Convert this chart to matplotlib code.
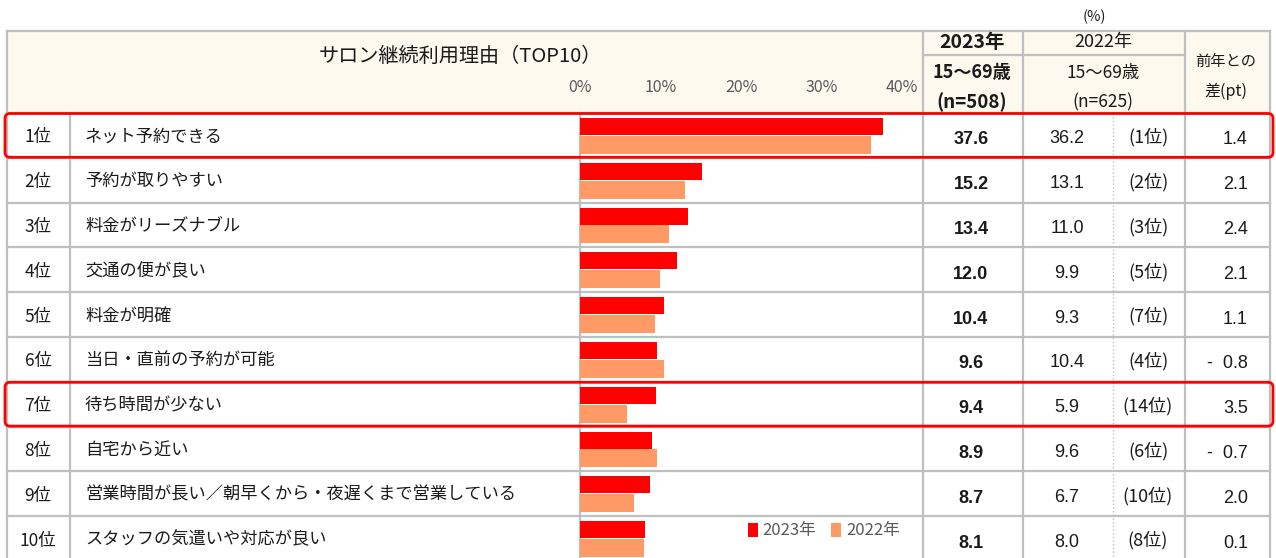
import matplotlib
matplotlib.use("Agg")
import matplotlib.pyplot as plt
from matplotlib.patches import Rectangle, FancyBboxPatch
import numpy as np

plt.rcParams['font.family'] = ['Noto Sans CJK JP', 'DejaVu Sans']

# データ
ranks = ["1位", "2位", "3位", "4位", "5位", "6位", "7位", "8位", "9位", "10位"]
reasons = ["ネット予約できる", "予約が取りやすい", "料金がリーズナブル", "交通の便が良い",
           "料金が明確", "当日・直前の予約が可能", "待ち時間が少ない", "自宅から近い",
           "営業時間が長い／朝早くから・夜遅くまで営業している", "スタッフの気遣いや対応が良い"]
val_2023 = [37.6, 15.2, 13.4, 12.0, 10.4, 9.6, 9.4, 8.9, 8.7, 8.1]
val_2022 = [36.2, 13.1, 11.0, 9.9, 9.3, 10.4, 5.9, 9.6, 6.7, 8.0]
rank_2022 = [1, 2, 3, 5, 7, 4, 14, 6, 10, 8]
diff_pt = [1.4, 2.1, 2.4, 2.1, 1.1, -0.8, 3.5, -0.7, 2.0, 0.1]
highlight = [0, 6]
ticks = [0, 10, 20, 30, 40]

RED = "#FF0000"
ORANGE = "#FF9966"
GRID = "#BFBFBF"
CREAM = "#FEF9EE"
TXT = "#1A1A1A"
GRAY = "#595959"
NUMFONT = ['Liberation Sans', 'DejaVu Sans']

W, H = 1276, 558
fig = plt.figure(figsize=(W / 100, H / 100), dpi=100)

# 表の枠（ピクセル座標）
ax = fig.add_axes([0, 0, 1, 1])
ax.set_xlim(0, W)
ax.set_ylim(H, 0)
ax.axis("off")

x_left, x_rank, x_bar, x_c23, x_c22, x_r22, x_diff, x_right = 7, 70, 580, 923, 1023, 1113, 1185, 1270
y_top, y_hdr = 31, 113
row_h = 44.8
n = len(ranks)
y_bot = y_hdr + n * row_h

ax.add_patch(Rectangle((x_left, y_top), x_right - x_left, y_hdr - y_top,
                       facecolor=CREAM, edgecolor="none", zorder=0))

lw = 1.6
# 横線
ax.plot([x_left, x_right], [y_top, y_top], color=GRID, lw=lw)
ax.plot([x_c23, x_diff], [55, 55], color=GRID, lw=lw)
for i in range(n + 1):
    y = y_hdr + i * row_h
    ax.plot([x_left, x_right], [y, y], color=GRID, lw=lw)
# 縦線
ax.plot([x_left, x_left], [y_top, y_bot], color=GRID, lw=lw)
ax.plot([x_right, x_right], [y_top, y_bot], color=GRID, lw=lw)
ax.plot([x_rank, x_rank], [y_hdr, y_bot], color=GRID, lw=lw)
ax.plot([x_bar, x_bar], [y_hdr, y_bot], color=GRID, lw=lw)
for x in [x_c23, x_c22, x_diff]:
    ax.plot([x, x], [y_top, y_bot], color=GRID, lw=lw)
ax.plot([x_r22, x_r22], [y_hdr, y_bot], color=GRID, lw=1, ls=":")

# ヘッダー
ax.text(460, 56, "サロン継続利用理由（TOP10）", ha="center", va="center", fontsize=14.5, color=TXT)
ax.text(972, 42, "2023年", ha="center", va="center", fontsize=14, weight="bold", color=TXT)
ax.text(972, 73, "15〜69歳", ha="center", va="center", fontsize=13, weight="bold", color=TXT)
ax.text(972, 102, "(n=508)", ha="center", va="center", fontsize=13.5, weight="bold", color=TXT)
ax.text(1103, 42, "2022年", ha="center", va="center", fontsize=13, color=TXT)
ax.text(1103, 73, "15〜69歳", ha="center", va="center", fontsize=12.5, color=TXT)
ax.text(1103, 102, "(n=625)", ha="center", va="center", fontsize=12.5, color=TXT)
ax.text(1226, 61, "前年との", ha="center", va="center", fontsize=11, color=TXT)
ax.text(1226, 91, "差(pt)", ha="center", va="center", fontsize=11.5, color=TXT)
ax.text(1094, 17, "(%)", ha="center", va="center", fontsize=10.5, color=TXT)

# 各行の文字
for i in range(n):
    yc = y_hdr + (i + 0.5) * row_h
    ax.text(38, yc + 2, ranks[i], ha="center", va="center", fontsize=12.5, color=TXT)
    ax.text(85, yc + 1, reasons[i], ha="left", va="center", fontsize=12.4, color=TXT)
    ax.text(971, yc + 9, f"{val_2023[i]:.1f}", ha="center", va="baseline", fontsize=13,
            weight="bold", color=TXT, family=NUMFONT)
    ax.text(1067, yc + 8, f"{val_2022[i]:.1f}", ha="center", va="baseline", fontsize=13,
            color=TXT, family=NUMFONT)
    ax.text(1148, yc + 2, f"({rank_2022[i]}位)", ha="center", va="center", fontsize=13, color=TXT)
    d = diff_pt[i]
    s = f"{d:.1f}" if d >= 0 else f"-  {abs(d):.1f}"
    ax.text(1248, yc + 9, s, ha="right", va="baseline", fontsize=13, color=TXT, family=NUMFONT)

# 強調枠
for i in highlight:
    y0 = y_hdr + i * row_h
    ax.add_patch(FancyBboxPatch((5, y0 + 0.5), 1268, row_h - 1,
                                boxstyle="round,pad=0,rounding_size=5",
                                facecolor="none", edgecolor=RED, lw=2, zorder=5))

# 棒グラフ
px40 = 902
bx = fig.add_axes([x_bar / W, 1 - y_bot / H, (px40 - x_bar) / W, (y_bot - y_hdr) / H])
bx.set_facecolor("none")
pos = np.arange(n)
bx.barh(pos + 0.30, val_2023, height=0.38, color=RED, label="2023年")
bx.barh(pos + 0.71, val_2022, height=0.40, color=ORANGE, label="2022年")
bx.set_xlim(0, 40)
bx.set_ylim(n, 0)
bx.xaxis.tick_top()
bx.set_xticks(ticks)
bx.set_xticklabels([f"{t}%" for t in ticks])
bx.tick_params(axis="x", length=0, pad=12, labelsize=11.5, labelcolor=GRAY)
bx.set_yticks([])
for sp in bx.spines.values():
    sp.set_visible(False)

bx.legend(loc="center right", bbox_to_anchor=(900 / W, 1 - 531 / H), bbox_transform=fig.transFigure,
          ncol=2, frameon=False, fontsize=12, labelcolor=GRAY, handlelength=0.6, handleheight=0.9,
          handletextpad=0.3, columnspacing=0.9, borderpad=0, borderaxespad=0)

fig.savefig("out.png", dpi=100)
